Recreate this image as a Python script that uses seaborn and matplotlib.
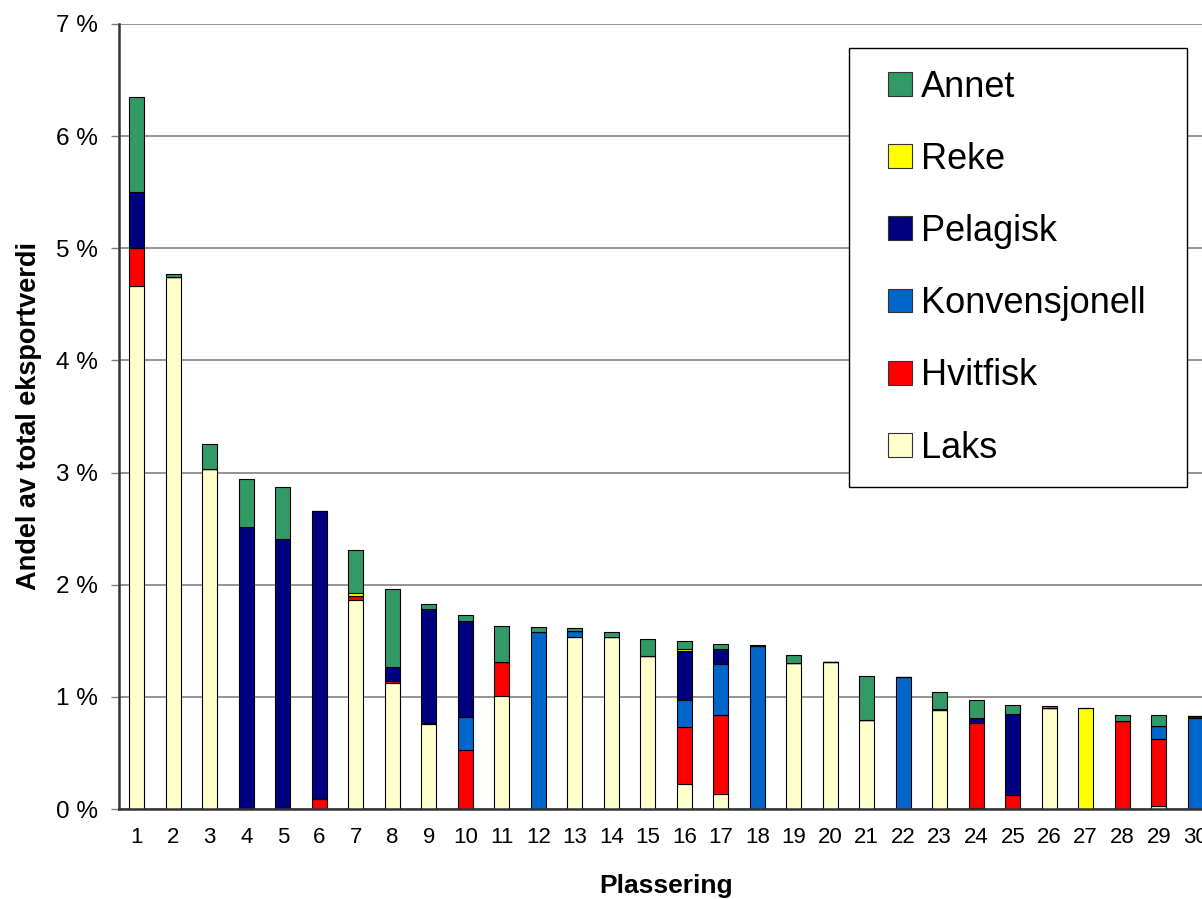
import pandas as pd
import seaborn as sns
import matplotlib.pyplot as plt
from matplotlib.patches import Patch, Rectangle
from matplotlib.legend_handler import HandlerPatch

# andel av total eksportverdi (prosent) per plassering, per kategori
plassering = list(range(1, 31))
laks = [4.66, 4.74, 3.03, 0, 0, 0, 1.865, 1.12, 0.76, 0,
        1.01, 0, 1.535, 1.53, 1.365, 0.22, 0.135, 0, 1.30, 1.31,
        0.79, 0, 0.88, 0.01, 0, 0.905, 0, 0, 0.03, 0]
hvitfisk = [0.34, 0, 0, 0, 0, 0.085, 0.03, 0.02, 0.005, 0.53,
            0.30, 0, 0, 0, 0, 0.51, 0.70, 0, 0, 0,
            0, 0, 0, 0.755, 0.125, 0, 0, 0.785, 0.59, 0]
konvensjonell = [0, 0, 0, 0, 0, 0, 0, 0, 0, 0.29,
                 0, 1.575, 0.05, 0, 0, 0.24, 0.455, 1.455, 0, 0,
                 0, 1.18, 0, 0, 0, 0, 0, 0, 0.12, 0.815]
pelagisk = [0.50, 0, 0, 2.515, 2.41, 2.575, 0, 0.125, 1.02, 0.86,
            0, 0, 0, 0, 0, 0.44, 0.14, 0, 0, 0,
            0, 0, 0.01, 0.045, 0.725, 0, 0, 0, 0, 0.01]
reke = [0, 0, 0, 0, 0, 0, 0.03, 0, 0, 0,
        0, 0, 0, 0, 0, 0.02, 0, 0, 0, 0,
        0, 0, 0, 0, 0, 0, 0.90, 0, 0, 0]
annet = [0.85, 0.03, 0.225, 0.425, 0.46, 0, 0.385, 0.70, 0.04, 0.05,
         0.32, 0.05, 0.025, 0.05, 0.15, 0.07, 0.04, 0.01, 0.07, 0,
         0.40, 0, 0.15, 0.16, 0.075, 0.015, 0, 0.05, 0.095, 0]

kategorier = ['Annet', 'Reke', 'Pelagisk', 'Konvensjonell', 'Hvitfisk', 'Laks']
farger = ['#339966', '#FFFF00', '#000080', '#0066CC', '#FF0000', '#FFFFCC']

df = pd.DataFrame({'plassering': plassering, 'Laks': laks, 'Hvitfisk': hvitfisk,
                   'Konvensjonell': konvensjonell, 'Pelagisk': pelagisk,
                   'Reke': reke, 'Annet': annet})
df = df.melt(id_vars='plassering', var_name='kategori', value_name='andel')

sns.set_style('white')
plt.rcParams['font.family'] = ['Liberation Sans', 'DejaVu Sans']
plt.rcParams.update({'text.color': 'black', 'axes.labelcolor': 'black',
                     'xtick.color': 'black', 'ytick.color': 'black'})

fig = plt.figure(figsize=(12.02, 8.99), dpi=100)
ax = fig.add_axes([118.5 / 1202, 90 / 899, 1095 / 1202, 785 / 899])

sns.histplot(data=df, x='plassering', weights='andel', hue='kategori',
             hue_order=kategorier, palette=dict(zip(kategorier, farger)),
             multiple='stack', discrete=True, shrink=0.4, alpha=1,
             edgecolor='black', linewidth=0.8, legend=False, ax=ax)

ax.set_xlim(0.5, 30.5)
ax.set_ylim(0, 7)
ax.set_yticks(range(8))
ax.set_yticklabels([f'{i} %' for i in range(8)])
ax.yaxis.grid(True, color='#808080', linewidth=1.2)
ax.set_axisbelow(True)

ax.set_xticks([i + 0.5 for i in range(31)])
ax.set_xticklabels([])
ax.set_xticks(plassering, minor=True)
ax.set_xticklabels([str(p) for p in plassering], minor=True)
ax.tick_params(axis='x', which='major', direction='out', length=6, width=1, color='#404040')
ax.tick_params(axis='x', which='minor', length=0, pad=13, labelsize=16)
ax.tick_params(axis='y', direction='out', length=6, width=1, color='#808080',
               pad=9, labelsize=17.5, left=True)

for s in ['top', 'right']:
    ax.spines[s].set_visible(False)
for s in ['left', 'bottom']:
    ax.spines[s].set_color('#333333')
    ax.spines[s].set_linewidth(1.8)

ax.set_xlabel('Plassering', fontsize=19, fontweight='bold')
ax.set_ylabel('Andel av total eksportverdi', fontsize=19.5, fontweight='bold')
ax.xaxis.set_label_coords(0.5, -0.083)
ax.yaxis.set_label_coords(-0.070, 0.5)


def square(legend, orig_handle, xdescent, ydescent, width, height, fontsize):
    return Rectangle((-xdescent + width - height, -ydescent), height, height)


handles = [Patch(facecolor=c, edgecolor='#333333', linewidth=0.8) for c in farger]
leg = ax.legend(handles, kategorier, loc='upper left',
                bbox_to_anchor=(849 / 1202, 1 - 483 / 899, 338 / 1202, 435 / 899),
                bbox_transform=fig.transFigure, mode='expand', borderaxespad=0,
                fontsize=26, handlelength=1.14, handleheight=0.64, handletextpad=0.25,
                labelspacing=1.03, borderpad=0.6, fancybox=False, framealpha=1,
                edgecolor='black', handler_map={Patch: HandlerPatch(patch_func=square)})
leg.get_frame().set_linewidth(1)

fig.savefig('out.png', dpi=100)
